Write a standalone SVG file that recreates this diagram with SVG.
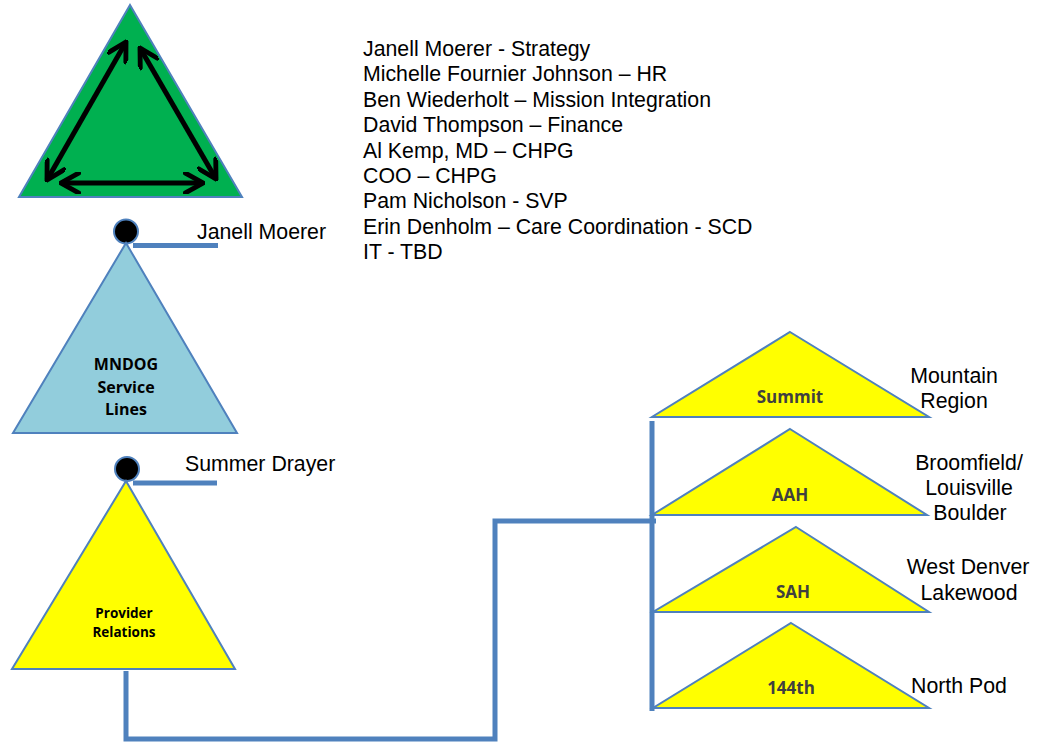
<svg xmlns="http://www.w3.org/2000/svg" width="1050" height="742" viewBox="0 0 1050 742">
<style>
.tri{stroke:#4F81BD;stroke-width:2;stroke-linejoin:miter}
.lbl{font-family:"Liberation Sans",Arial,sans-serif;font-size:21.3px;fill:#000}
.inb{font-family:"Open Sans","Noto Sans",sans-serif;font-weight:bold;text-anchor:middle}
.conn{fill:none;stroke:#4F81BD;stroke-width:5;stroke-linejoin:miter}
.arr{stroke:#000;stroke-width:5;fill:none;marker-start:url(#chev);marker-end:url(#chev)}
.dot{fill:#000;stroke:#4F81BD;stroke-width:2}
</style>
<defs>
<marker id="chev" viewBox="0 0 10 10" refX="9" refY="5" markerWidth="4.4" markerHeight="4.4" markerUnits="strokeWidth" orient="auto-start-reverse">
<path d="M1,0.5 L9,5 L1,9.5" fill="none" stroke="#000" stroke-width="2.2" stroke-linejoin="miter" stroke-linecap="round"/>
</marker>
</defs>
<rect width="1050" height="742" fill="#fff"/>

<g id="leadership">
<polygon class="tri" points="130,5 242,197 19,197" fill="#00B050"/>
<line class="arr" x1="126" y1="42" x2="47" y2="180"/>
<line class="arr" x1="140" y1="48" x2="216" y2="179"/>
<line class="arr" x1="61" y1="183" x2="203" y2="183"/>
</g>

<g id="members">
<text class="lbl" x="363" y="56">Janell Moerer - Strategy</text>
<text class="lbl" x="363" y="81.4">Michelle Fournier Johnson – HR</text>
<text class="lbl" x="363" y="106.8">Ben Wiederholt – Mission Integration</text>
<text class="lbl" x="363" y="132.2">David Thompson – Finance</text>
<text class="lbl" x="363" y="157.6">Al Kemp, MD – CHPG</text>
<text class="lbl" x="363" y="183">COO – CHPG</text>
<text class="lbl" x="363" y="208.4">Pam Nicholson - SVP</text>
<text class="lbl" x="363" y="233.8">Erin Denholm – Care Coordination - SCD</text>
<text class="lbl" x="363" y="259.2">IT - TBD</text>
</g>

<g id="connectors">
<line x1="133" y1="245.5" x2="218" y2="245.5" stroke="#4F81BD" stroke-width="5"/>
<line x1="133" y1="483" x2="217" y2="483" stroke="#4F81BD" stroke-width="5"/>
<path class="conn" d="M126,671 L126,739 L495,739 L495,521 L656,521"/>
<path class="conn" d="M652,421 L652,711"/>
</g>

<g id="mndog">
<circle class="dot" cx="126" cy="231.5" r="12"/>
<text class="lbl" x="197" y="239">Janell Moerer</text>
<polygon class="tri" points="126,243 237,433 13,433" fill="#92CDDC"/>
<text class="inb" x="126" y="370" font-size="16" fill="#000">MNDOG</text>
<text class="inb" x="126" y="392.5" font-size="16" fill="#000">Service</text>
<text class="inb" x="126" y="415" font-size="16" fill="#000">Lines</text>
</g>

<g id="provider">
<circle class="dot" cx="127" cy="469" r="12"/>
<text class="lbl" x="185" y="471">Summer Drayer</text>
<polygon class="tri" points="126,481 235,669 12,669" fill="#FFFF00"/>
<text class="inb" x="124" y="618" font-size="13.5" fill="#000">Provider</text>
<text class="inb" x="124" y="637" font-size="13.5" fill="#000">Relations</text>
</g>

<g id="summit">
<polygon class="tri" points="790,332 929,417 652,417" fill="#FFFF00"/>
<text class="inb" x="790" y="403" font-size="17" fill="#404040">Summit</text>
<text class="lbl" x="954" y="383" text-anchor="middle">Mountain</text>
<text class="lbl" x="954" y="408" text-anchor="middle">Region</text>
</g>

<g id="aah">
<polygon class="tri" points="790,429 927,515 652,515" fill="#FFFF00"/>
<text class="inb" x="790" y="501" font-size="17" fill="#404040">AAH</text>
<text class="lbl" x="969" y="470" text-anchor="middle">Broomfield/</text>
<text class="lbl" x="969" y="495" text-anchor="middle">Louisville</text>
<text class="lbl" x="970" y="520" text-anchor="middle">Boulder</text>
</g>

<g id="sah">
<polygon class="tri" points="796,527 929,612 653,612" fill="#FFFF00"/>
<text class="inb" x="793" y="598" font-size="17" fill="#404040">SAH</text>
<text class="lbl" x="968" y="574" text-anchor="middle">West Denver</text>
<text class="lbl" x="969" y="600" text-anchor="middle">Lakewood</text>
</g>

<g id="n144">
<polygon class="tri" points="791,623 929,708 653,708" fill="#FFFF00"/>
<text class="inb" x="791" y="694" font-size="17" fill="#404040">144th</text>
<text class="lbl" x="959" y="693" text-anchor="middle">North Pod</text>
</g>
</svg>
